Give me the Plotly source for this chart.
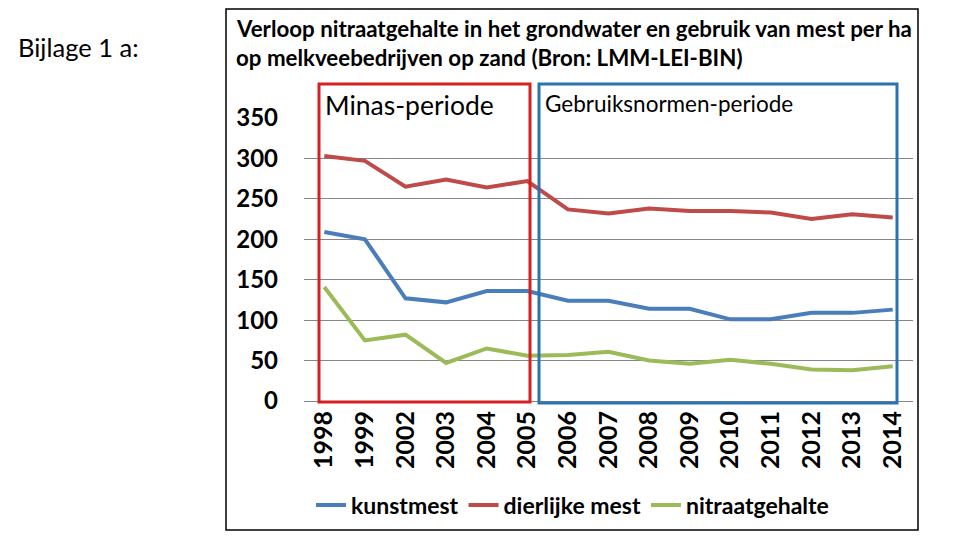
import plotly.graph_objects as go

years = ["1998", "1999", "2002", "2003", "2004", "2005", "2006", "2007",
         "2008", "2009", "2010", "2011", "2012", "2013", "2014"]
kunstmest = [209, 200, 127, 122, 136, 136, 124, 124, 114, 114, 101, 101, 109, 109, 113]
dierlijke_mest = [303, 297, 265, 274, 264, 272, 237, 232, 238, 235, 235, 233, 225, 231, 227]
nitraatgehalte = [141, 75, 82, 47, 65, 56, 57, 61, 50, 46, 51, 46, 39, 38, 43]
y_ticks = [0, 50, 100, 150, 200, 250, 300, 350]

W, H = 960, 540
OFF = 8  # page body margin offset
FONT = "Lato"


def px(x):
    return (x - OFF) / W


def py(y):
    return (H - (y - OFF)) / H


fig = go.Figure()
series = [
    ("kunstmest", kunstmest, "#4A7EBB"),
    ("dierlijke mest", dierlijke_mest, "#BE4B48"),
    ("nitraatgehalte", nitraatgehalte, "#9BBB59"),
]
for name, vals, col in series:
    fig.add_trace(go.Scatter(x=years, y=vals, name=name, mode="lines",
                             line=dict(color=col, width=4)))

shapes = [
    dict(type="rect", xref="paper", yref="paper", x0=px(226), x1=px(918),
         y0=py(530), y1=py(9), line=dict(color="black", width=1.5)),
    dict(type="rect", xref="paper", yref="paper", x0=px(319), x1=px(530),
         y0=py(402), y1=py(84), line=dict(color="#D42020", width=3)),
    dict(type="rect", xref="paper", yref="paper", x0=px(539), x1=px(897),
         y0=py(403), y1=py(84), line=dict(color="#2A72B0", width=3)),
]

annotations = [
    dict(text="Bijlage 1 a:", xref="paper", yref="paper", x=px(16), y=py(47),
         xanchor="left", yanchor="middle", showarrow=False,
         font=dict(family=FONT, size=25.5, color="black")),
    dict(text="Verloop nitraatgehalte in het grondwater en gebruik van mest per ha",
         xref="paper", yref="paper", x=px(234), y=py(28),
         xanchor="left", yanchor="middle", showarrow=False,
         font=dict(family=FONT, size=22.3, color="black", weight="bold")),
    dict(text="op melkveebedrijven op zand (Bron: LMM-LEI-BIN)",
         xref="paper", yref="paper", x=px(234), y=py(58),
         xanchor="left", yanchor="middle", showarrow=False,
         font=dict(family=FONT, size=22.3, color="black", weight="bold")),
    dict(text="Minas-periode", xref="paper", yref="paper", x=px(323), y=py(105),
         xanchor="left", yanchor="middle", showarrow=False,
         font=dict(family=FONT, size=26.5, color="black")),
    dict(text="Gebruiksnormen-periode", xref="paper", yref="paper", x=px(543), y=py(103),
         xanchor="left", yanchor="middle", showarrow=False,
         font=dict(family=FONT, size=22.5, color="black")),
]

fig.update_layout(
    width=W, height=H,
    margin=dict(l=0, r=0, t=0, b=0, pad=0, autoexpand=False),
    paper_bgcolor="white", plot_bgcolor="white",
    showlegend=True,
    legend=dict(orientation="h", x=px(311), y=py(505), xanchor="left", yanchor="middle",
                font=dict(family=FONT, size=23, color="black", weight="bold"),
                itemwidth=30, tracegroupgap=0, bgcolor="rgba(0,0,0,0)"),
    shapes=shapes,
    annotations=annotations,
    xaxis=dict(domain=[px(304), px(913)], type="category", range=[-0.5, 14.5],
               showgrid=False, showline=False, zeroline=False, tickangle=-90,
               ticks="", ticklabelstandoff=4, automargin=False,
               tickfont=dict(family=FONT, size=25, color="black", weight="bold")),
    yaxis=dict(domain=[py(401), py(118)], range=[0, 350], tickvals=y_ticks,
               showgrid=True, gridcolor="#868686", gridwidth=1,
               zeroline=True, zerolinecolor="#868686", zerolinewidth=1,
               showline=False, ticks="", ticklabelstandoff=25, automargin=False,
               tickfont=dict(family=FONT, size=24, color="black", weight="bold")),
)

fig.write_html("out.html")
